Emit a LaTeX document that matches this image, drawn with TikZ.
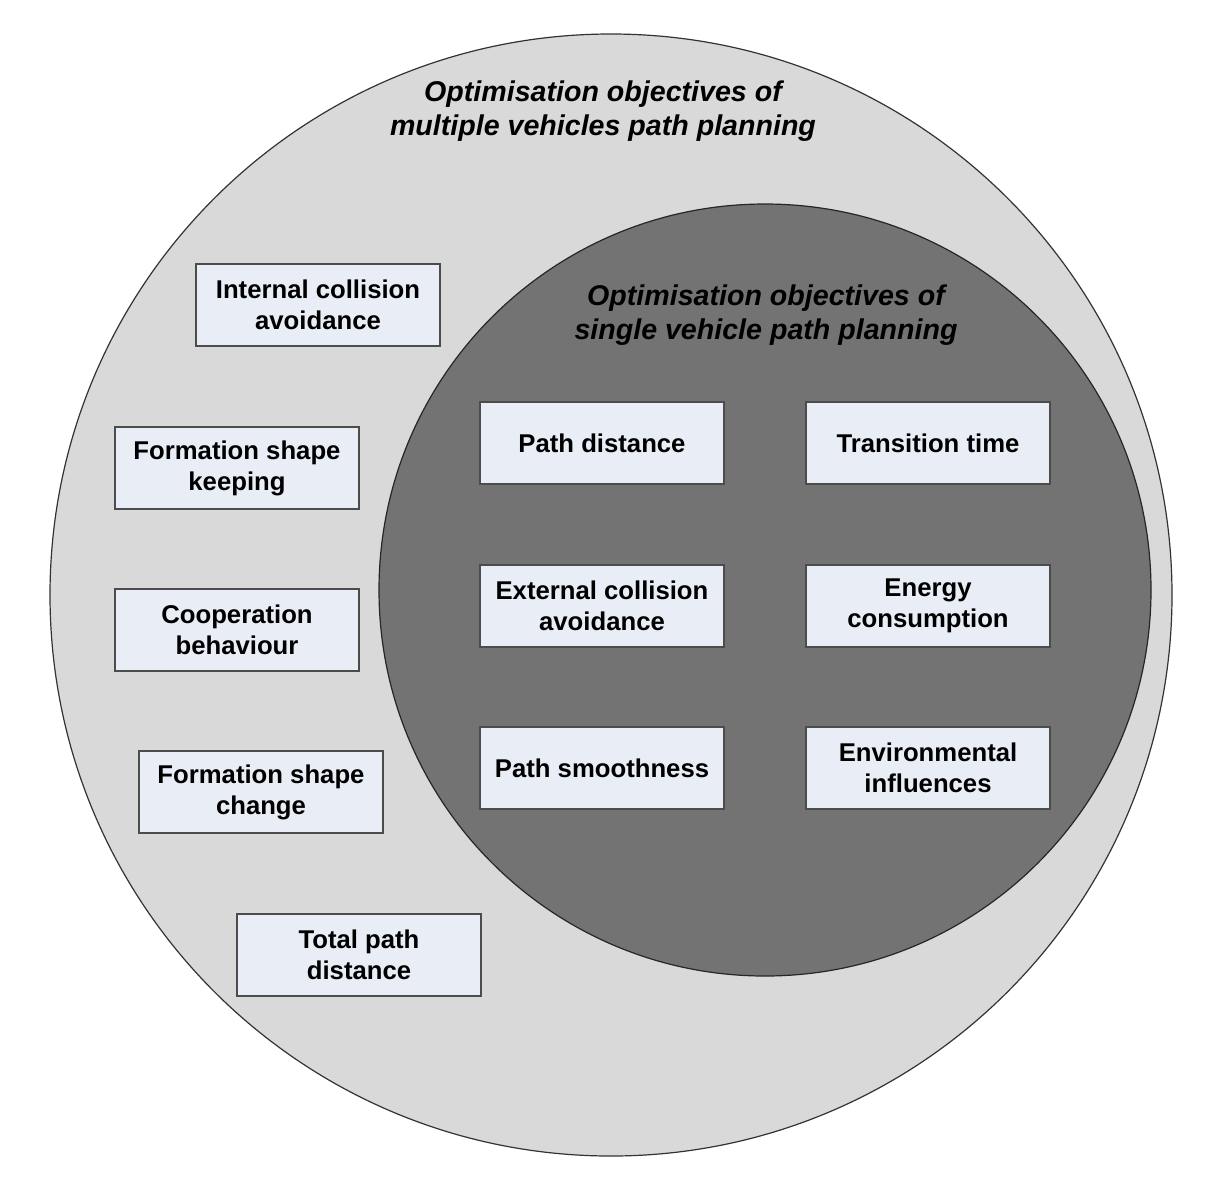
\documentclass[tikz,border=0pt]{standalone}
\usepackage{fontspec}
\setmainfont{Liberation Sans}
\begin{document}
\begin{tikzpicture}[x=0.5pt,y=-0.5pt,
  lbl/.style={font=\fontsize{12.85pt}{15.5pt}\selectfont\bfseries, align=center, text=black},
  ttl/.style={font=\fontsize{14.3pt}{17pt}\selectfont\bfseries\itshape, align=center, text=black},
  objbox/.style={lbl, draw=black!70, line width=0.6pt, fill=boxfill, minimum width=122pt, minimum height=41pt, inner sep=0pt}]
\definecolor{outerfill}{HTML}{D9D9D9}
\definecolor{innerfill}{HTML}{737373}
\definecolor{boxfill}{HTML}{E9EDF6}
\useasboundingbox (0,0) rectangle (1220,1190);
\fill[white] (0,0) rectangle (1220,1190);
\draw[fill=outerfill, draw=black!80, line width=0.6pt] (611,595) circle[radius=280.5pt];
\draw[fill=innerfill, draw=black!85, line width=0.6pt] (765,590) circle[radius=193pt];
\node[ttl] (outertitle) at (603,111) {Optimisation objectives of\\multiple vehicles path planning};
\node[ttl] (innertitle) at (766,315) {Optimisation objectives of\\single vehicle path planning};
\node[objbox] (ica) at (318,305) {Internal collision\\avoidance};
\node[objbox] (fsk) at (237,468) {Formation shape\\keeping};
\node[objbox] (cb) at (237,630) {Cooperation\\behaviour};
\node[objbox] (fsc) at (261,792) {Formation shape\\change};
\node[objbox] (tpd) at (359,955) {Total path\\distance};
\node[objbox] (pd) at (602,443) {Path distance};
\node[objbox] (tt) at (928,443) {Transition time};
\node[objbox] (eca) at (602,606) {External collision\\avoidance};
\node[objbox] (ec) at (928,606) {Energy\\consumption};
\node[objbox] (ps) at (602,768) {Path smoothness};
\node[objbox] (ei) at (928,768) {Environmental\\influences};
\end{tikzpicture}
\end{document}
